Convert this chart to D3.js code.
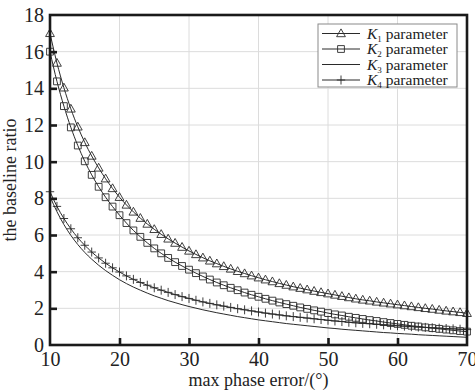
<!DOCTYPE html>
<html>
<head>
<meta charset="utf-8">
<script src="https://cdn.jsdelivr.net/npm/d3@7"></script>
<style>
  body { margin: 0; background: #fff; }
  svg text { font-family: "Liberation Serif", "Times New Roman", serif; fill: #222; }
  .grid line { stroke: #dcdcdc; stroke-width: 1; }
  .curve { fill: none; stroke: #2a2a2a; stroke-width: 1; }
  .mark { fill: none; stroke: #2a2a2a; stroke-width: 0.9; }
</style>
</head>
<body>
<script>
// x values: one marker per degree
const phaseError = d3.range(10, 71);

const k1 = [17.00, 15.38, 14.03, 12.88, 11.90, 11.05, 10.31, 9.66, 9.07, 8.54,
            8.06, 7.64, 7.26, 6.92, 6.60, 6.31, 6.04, 5.79, 5.56, 5.34,
            5.13, 4.94, 4.76, 4.59, 4.44, 4.29, 4.15, 4.02, 3.90, 3.78,
            3.67, 3.56, 3.46, 3.36, 3.27, 3.18, 3.10, 3.02, 2.94, 2.87,
            2.80, 2.73, 2.66, 2.59, 2.52, 2.46, 2.41, 2.35, 2.30, 2.25,
            2.20, 2.15, 2.10, 2.05, 2.00, 1.96, 1.91, 1.86, 1.82, 1.78, 1.73];

const k2 = [16.00, 14.38, 13.03, 11.87, 10.88, 10.02, 9.28, 8.63, 8.06, 7.55,
            7.08, 6.65, 6.25, 5.90, 5.57, 5.27, 5.00, 4.75, 4.52, 4.31,
            4.11, 3.92, 3.74, 3.57, 3.41, 3.26, 3.12, 2.99, 2.86, 2.74,
            2.63, 2.52, 2.42, 2.32, 2.23, 2.14, 2.05, 1.97, 1.89, 1.82,
            1.74, 1.67, 1.61, 1.54, 1.48, 1.42, 1.36, 1.31, 1.25, 1.20,
            1.15, 1.10, 1.05, 1.01, 0.96, 0.92, 0.88, 0.84, 0.80, 0.76, 0.73];

const k3 = [8.10, 7.27, 6.57, 5.98, 5.48, 5.05, 4.68, 4.35, 4.06, 3.80,
            3.56, 3.35, 3.16, 2.99, 2.83, 2.68, 2.55, 2.42, 2.31, 2.20,
            2.10, 2.01, 1.92, 1.84, 1.76, 1.69, 1.62, 1.55, 1.49, 1.43,
            1.37, 1.32, 1.27, 1.22, 1.17, 1.13, 1.09, 1.05, 1.01, 0.97,
            0.93, 0.90, 0.86, 0.83, 0.80, 0.77, 0.74, 0.71, 0.68, 0.66,
            0.63, 0.61, 0.59, 0.56, 0.54, 0.52, 0.50, 0.48, 0.46, 0.44, 0.42];

const k4 = [8.36, 7.56, 6.90, 6.34, 5.85, 5.44, 5.07, 4.75, 4.46, 4.21,
            3.98, 3.77, 3.58, 3.41, 3.26, 3.12, 2.99, 2.87, 2.75, 2.64,
            2.54, 2.44, 2.35, 2.27, 2.19, 2.12, 2.05, 1.98, 1.92, 1.86,
            1.80, 1.74, 1.69, 1.64, 1.59, 1.55, 1.51, 1.47, 1.43, 1.39,
            1.35, 1.31, 1.28, 1.24, 1.21, 1.18, 1.16, 1.13, 1.10, 1.08,
            1.05, 1.03, 1.00, 0.98, 0.96, 0.94, 0.92, 0.90, 0.88, 0.86, 0.84];

const xTicks = [10, 20, 30, 40, 50, 60, 70];
const yTicks = [0, 2, 4, 6, 8, 10, 12, 14, 16, 18];
const legendIndex = ["1", "2", "3", "4"];

const ch = {};
ch.width = 475;
ch.height = 390;
ch.margin = { top: 15, right: 8, bottom: 45, left: 50 };
ch.w = ch.width - ch.margin.left - ch.margin.right;
ch.h = ch.height - ch.margin.top - ch.margin.bottom;

ch.x = d3.scaleLinear().domain([10, 70]).range([0, ch.w]);
ch.y = d3.scaleLinear().domain([0, 18]).range([ch.h, 0]);

// marker shapes, centred on the point
const shapes = {
    tri: "M0,-4.6L4.4,3.2L-4.4,3.2Z",
    sq: "M-3.4,-3.4h6.8v6.8h-6.8Z",
    plus: "M-4.2,0H4.2M0,-4.5V4.5",
    none: null
};

const series = [
    { values: k1, shape: "tri" },
    { values: k2, shape: "sq" },
    { values: k3, shape: "none" },
    { values: k4, shape: "plus" }
];

document.addEventListener("DOMContentLoaded", function() {
    ch.svg = d3.select("body").append("svg")
        .attr("width", ch.width)
        .attr("height", ch.height);
    ch.g = ch.svg.append("g")
        .attr("transform", "translate(" + ch.margin.left + "," + ch.margin.top + ")");

    drawGrid();
    series.forEach(drawSeries);
    drawFrame();
    drawAxes();
    drawLegend();
});

/**
 * light grid at every tick
 */
function drawGrid() {
    const grid = ch.g.append("g").attr("class", "grid");
    grid.selectAll(".gx").data(xTicks.slice(1, -1)).enter().append("line")
        .attr("x1", d => ch.x(d)).attr("x2", d => ch.x(d))
        .attr("y1", 0).attr("y2", ch.h);
    grid.selectAll(".gy").data(yTicks.slice(1, -1)).enter().append("line")
        .attr("x1", 0).attr("x2", ch.w)
        .attr("y1", d => ch.y(d)).attr("y2", d => ch.y(d));
}

/**
 * line plus its markers
 */
function drawSeries(s) {
    const pts = phaseError.map((p, i) => ({ p: p, v: s.values[i] }));
    const line = d3.line()
        .x(d => ch.x(d.p))
        .y(d => ch.y(d.v))
        .curve(d3.curveMonotoneX);

    ch.g.append("path").datum(pts)
        .attr("class", "curve")
        .attr("d", line);

    if (!shapes[s.shape]) return;

    ch.g.append("g").selectAll("path")
        .data(pts).enter().append("path")
        .attr("class", "mark")
        .attr("transform", d => "translate(" + ch.x(d.p) + "," + ch.y(d.v) + ")")
        .attr("d", shapes[s.shape]);
}

function drawFrame() {
    ch.g.append("rect")
        .attr("x", 0).attr("y", 0)
        .attr("width", ch.w).attr("height", ch.h)
        .attr("fill", "none")
        .attr("stroke", "#1a1a1a")
        .attr("stroke-width", 2.6);
}

/**
 * inward ticks, labels and titles
 */
function drawAxes() {
    const xAxis = ch.g.append("g")
        .attr("transform", "translate(0," + ch.h + ")")
        .call(d3.axisBottom(ch.x).tickValues(xTicks).tickSize(-7).tickPadding(10));
    const yAxis = ch.g.append("g")
        .call(d3.axisLeft(ch.y).tickValues(yTicks).tickSize(-7).tickPadding(6));

    [xAxis, yAxis].forEach(a => {
        a.select(".domain").remove();
        a.selectAll("line").attr("stroke", "#1a1a1a").attr("stroke-width", 2.6);
        a.selectAll("text")
            .attr("fill", "#222")
            .style("font-family", "'Liberation Serif', serif")
            .style("font-size", "20px");
    });
    // no ticks drawn on the plot edges
    xAxis.selectAll(".tick").filter(d => d === 10 || d === 70).select("line").remove();
    yAxis.selectAll(".tick").filter(d => d === 0 || d === 18).select("line").remove();
    xAxis.selectAll("text").attr("dy", "0.55em");

    ch.g.append("text")
        .attr("x", ch.w / 2)
        .attr("y", ch.h + 41)
        .attr("text-anchor", "middle")
        .style("font-size", "18px")
        .text("max phase error/(°)");

    ch.g.append("text")
        .attr("transform", "translate(" + (-34) + "," + (ch.h / 2) + ") rotate(-90)")
        .attr("text-anchor", "middle")
        .style("font-size", "18px")
        .text("the baseline ratio");
}

function drawLegend() {
    const lg = ch.g.append("g")
        .attr("transform", "translate(" + (ch.w - 149) + ",9)");

    lg.append("rect")
        .attr("width", 139).attr("height", 63)
        .attr("fill", "#fff")
        .attr("stroke", "#8a8a8a")
        .attr("stroke-width", 1);

    const rows = lg.selectAll(".row").data(series).enter().append("g")
        .attr("transform", (d, i) => "translate(0," + (9.5 + i * 15.5) + ")");

    rows.append("line")
        .attr("class", "curve")
        .attr("x1", 4).attr("x2", 42);
    rows.filter(d => shapes[d.shape]).append("path")
        .attr("class", "mark")
        .attr("transform", "translate(23,0)")
        .attr("d", d => shapes[d.shape]);

    const t = rows.append("text")
        .attr("x", 49).attr("y", 5)
        .style("font-size", "15.5px");
    t.append("tspan").style("font-style", "italic").text("K");
    t.append("tspan")
        .attr("dy", 3).style("font-size", "9px")
        .text((d, i) => legendIndex[i]);
    t.append("tspan").attr("dy", -3).text(" parameter");
}
</script>
</body>
</html>
